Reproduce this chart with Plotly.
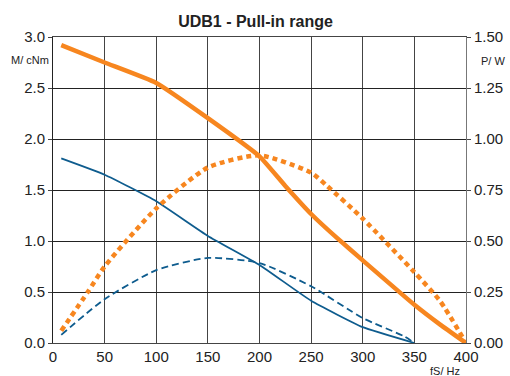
import plotly.graph_objects as go

# Data
freq_m_orange = [8, 50, 100, 150, 200, 225, 250, 275, 300, 350, 375, 400]
torque_orange = [2.92, 2.75, 2.55, 2.205, 1.83, 1.54, 1.265, 1.03, 0.81, 0.375, 0.18, 0.0]

freq_p_orange = [8, 34, 50, 100, 150, 200, 250, 265, 300, 350, 375, 400]
power_orange = [0.06, 0.252, 0.375, 0.66, 0.86, 0.92, 0.835, 0.772, 0.61, 0.347, 0.205, 0.0]

freq_m_blue = [8, 50, 100, 150, 200, 250, 300, 350]
torque_blue = [1.81, 1.65, 1.39, 1.05, 0.765, 0.414, 0.155, 0.0]

freq_p_blue = [8, 50, 100, 150, 200, 250, 300, 340, 350]
power_blue = [0.04, 0.215, 0.357, 0.417, 0.392, 0.278, 0.122, 0.033, 0.0]

x_ticks = [0, 50, 100, 150, 200, 250, 300, 350, 400]
m_ticks = [0.0, 0.5, 1.0, 1.5, 2.0, 2.5, 3.0]
p_ticks = [0.0, 0.25, 0.5, 0.75, 1.0, 1.25, 1.5]

ORANGE = "#F7861F"
BLUE = "#0E5C8E"
FONT = "Liberation Sans, Arial, sans-serif"

fig = go.Figure()
fig.add_trace(go.Scatter(x=freq_p_orange, y=power_orange, yaxis="y2", mode="lines",
                         line=dict(color=ORANGE, width=4.5, dash="5px,4px", shape="spline", smoothing=0.6)))
fig.add_trace(go.Scatter(x=freq_p_blue, y=power_blue, yaxis="y2", mode="lines",
                         line=dict(color=BLUE, width=1.8, dash="7px,4px", shape="spline", smoothing=0.6)))
fig.add_trace(go.Scatter(x=freq_m_blue, y=torque_blue, mode="lines",
                         line=dict(color=BLUE, width=1.8, shape="spline", smoothing=0.4)))
fig.add_trace(go.Scatter(x=freq_m_orange, y=torque_orange, mode="lines",
                         line=dict(color=ORANGE, width=4.5, shape="spline", smoothing=0.4)))

fig.update_layout(
    width=510, height=376,
    margin=dict(l=53, r=44, t=37, b=33, autoexpand=False),
    paper_bgcolor="white", plot_bgcolor="white",
    showlegend=False,
    font=dict(family=FONT, color="#222", size=15),
    title=dict(text="<b>UDB1 - Pull-in range</b>", x=255.5/510, xanchor="center",
               y=1 - 21.7/376, yanchor="middle", font=dict(size=16, family=FONT, color="#222")),
    xaxis=dict(range=[0, 400], tickvals=x_ticks, ticktext=[str(v) for v in x_ticks],
               showgrid=True, gridcolor="#444", gridwidth=1, zeroline=False,
               showline=True, linecolor="#444", linewidth=1, mirror=True, automargin=False,
               ticks="", tickfont=dict(size=15)),
    yaxis=dict(range=[0, 3.0], tickvals=m_ticks, ticktext=[f"{v:.1f}" for v in m_ticks],
               showgrid=True, gridcolor="#222", gridwidth=1, zeroline=False,
               showline=True, linecolor="#222", linewidth=1, automargin=False,
               ticks="outside", ticklen=4, tickcolor="#444", tickfont=dict(size=15)),
    yaxis2=dict(range=[0, 1.5], tickvals=p_ticks, ticktext=[f"{v:.2f}" for v in p_ticks],
                overlaying="y", side="right", showgrid=False, zeroline=False,
                showline=True, linecolor="#777", linewidth=1, automargin=False,
                ticks="outside", ticklen=4, tickcolor="#444", tickfont=dict(size=15)),
    annotations=[
        dict(text="M/ cNm", xref="paper", yref="paper", x=(51-53)/413, y=(343-60)/306.3,
             xanchor="right", yanchor="middle", showarrow=False, font=dict(size=11, family=FONT, color="#222")),
        dict(text="P/ W", xref="paper", yref="paper", x=(479-53)/413, y=(343-60.7)/306.3,
             xanchor="left", yanchor="middle", showarrow=False, font=dict(size=11, family=FONT, color="#222")),
        dict(text="fS/ Hz", xref="paper", yref="paper", x=(462-53)/413, y=(343-370.7)/306.3,
             xanchor="right", yanchor="middle", showarrow=False, font=dict(size=11, family=FONT, color="#222")),
    ],
)

fig.write_html("out.html")
